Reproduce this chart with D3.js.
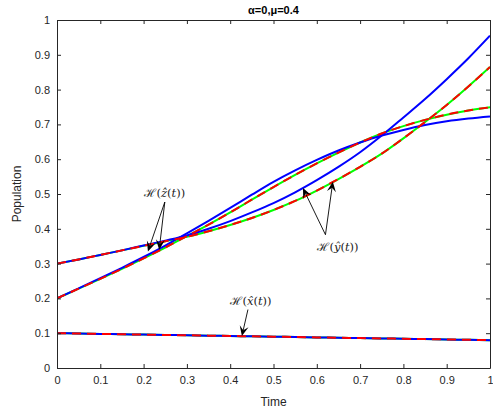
<!DOCTYPE html>
<html><head><meta charset="utf-8">
<script src="https://cdn.jsdelivr.net/npm/d3@7"></script>
<style>body{margin:0;background:#fff}svg{display:block}</style>
</head><body>
<svg id="c" width="493" height="412"></svg>
<script>
// ---- data ----
const tValues = [0,0.05,0.1,0.15,0.2,0.25,0.3,0.35,0.4,0.45,0.5,0.55,0.6,0.65,0.7,0.75,0.8,0.85,0.9,0.95,1.0];
const xExact  = [0.100,0.099,0.098,0.097,0.096,0.095,0.094,0.093,0.092,0.091,0.090,0.089,0.088,0.087,0.086,0.085,0.084,0.083,0.082,0.081,0.080];
const zExact  = [0.200,0.229,0.258,0.288,0.319,0.352,0.387,0.423,0.460,0.498,0.535,0.568,0.598,0.625,0.648,0.668,0.684,0.698,0.709,0.717,0.723];
const zApprox = [0.200,0.228,0.256,0.285,0.315,0.346,0.379,0.412,0.447,0.484,0.520,0.555,0.588,0.619,0.648,0.674,0.695,0.713,0.728,0.740,0.749];
const yExact  = [0.300,0.312,0.325,0.338,0.352,0.366,0.381,0.400,0.422,0.447,0.474,0.505,0.540,0.578,0.620,0.668,0.720,0.773,0.830,0.890,0.955];
const yApprox = [0.300,0.312,0.325,0.338,0.351,0.364,0.377,0.393,0.411,0.431,0.454,0.480,0.510,0.543,0.578,0.616,0.660,0.707,0.756,0.809,0.865];
const xTicks = [0,0.1,0.2,0.3,0.4,0.5,0.6,0.7,0.8,0.9,1];
const yTicks = [0,0.1,0.2,0.3,0.4,0.5,0.6,0.7,0.8,0.9,1];
const titleText = "α=0,μ=0.4";
const xLabel = "Time", yLabel = "Population";
// annotations: hatted variable, text anchor [t,v], arrow start [t,v], arrow tips [[t,v],...]
const annVars   = ["ẑ","ŷ","x̂"];
const annText   = [[0.249,0.49],[0.649,0.335],[0.448,0.182]];
const annStart  = [[0.249,0.477],[0.620,0.383],[0.441,0.168]];
const annTips   = [[[0.210,0.335],[0.236,0.340]],[[0.568,0.517],[0.637,0.535]],[[0.427,0.092]]];

// ---- layout ----
const L=57,R=490,T=20,B=368;
const svg=d3.select("#c");
const x=d3.scaleLinear().domain([0,1]).range([L,R]);
const y=d3.scaleLinear().domain([0,1]).range([B,T]);
const axCol="#262626";

const line=(vals)=>d3.line().x((d,i)=>x(tValues[i])).y(d=>y(d)).curve(d3.curveMonotoneX)(vals);

const gP=svg.append("g");
gP.append("clipPath").attr("id","clip").append("rect").attr("x",L).attr("y",T).attr("width",R-L).attr("height",B-T);
const gL=gP.append("g").attr("clip-path","url(#clip)");
[xExact,zApprox,yApprox].forEach(s=>gL.append("path").attr("d",line(s)).attr("fill","none").attr("stroke","#00ff00").attr("stroke-width",2));
[xExact,zExact,yExact].forEach(s=>gL.append("path").attr("d",line(s)).attr("fill","none").attr("stroke","#0000ff").attr("stroke-width",2));
[xExact,zApprox,yApprox].forEach(s=>gL.append("path").attr("d",line(s)).attr("fill","none").attr("stroke","#ff0000").attr("stroke-width",2).attr("stroke-dasharray","9,6"));

// axes
const fmt=d=>d===0?"0":d===1?"1":d3.format(".1f")(d);
const gx=svg.append("g").attr("transform",`translate(0,${B})`).call(d3.axisBottom(x).tickValues(xTicks).tickFormat(fmt).tickSizeInner(-4).tickSizeOuter(0).tickPadding(8));
const gx2=svg.append("g").attr("transform",`translate(0,${T})`).call(d3.axisTop(x).tickValues(xTicks).tickFormat("").tickSizeInner(-4).tickSizeOuter(0));
const gy=svg.append("g").attr("transform",`translate(${L},0)`).call(d3.axisLeft(y).tickValues(yTicks).tickFormat(fmt).tickSizeInner(-4).tickSizeOuter(0).tickPadding(7));
const gy2=svg.append("g").attr("transform",`translate(${R},0)`).call(d3.axisRight(y).tickValues(yTicks).tickFormat("").tickSizeInner(-4).tickSizeOuter(0));
[gx,gx2,gy,gy2].forEach(g=>{g.selectAll("path,line").attr("stroke",axCol).attr("stroke-width",1);g.selectAll("text").attr("fill",axCol).style("font-family","'Liberation Sans',Arial,sans-serif").style("font-size","11px");});

svg.append("text").attr("x",(L+R)/2).attr("y",406).attr("text-anchor","middle").attr("fill",axCol).style("font-family","'Liberation Sans',Arial,sans-serif").style("font-size","12px").text(xLabel);
svg.append("text").attr("transform",`translate(21,${(T+B)/2}) rotate(-90)`).attr("text-anchor","middle").attr("fill",axCol).style("font-family","'Liberation Sans',Arial,sans-serif").style("font-size","12px").text(yLabel);
svg.append("text").attr("x",(L+R)/2).attr("y",14).attr("text-anchor","middle").attr("fill","#000").style("font-family","'Liberation Sans',Arial,sans-serif").style("font-size","11px").style("font-weight","bold").text(titleText);

// annotations
const ga=svg.append("g");
function arrow(x0,y0,x1,y1){
  const dx=x1-x0,dy=y1-y0,len=Math.hypot(dx,dy),ux=dx/len,uy=dy/len,px=-uy,py=ux;
  const hl=10,hw=4.5,nb=6;
  ga.append("line").attr("x1",x0).attr("y1",y0).attr("x2",x1-ux*nb).attr("y2",y1-uy*nb).attr("stroke","#000").attr("stroke-width",0.9);
  const p=[[x1,y1],[x1-ux*hl+px*hw,y1-uy*hl+py*hw],[x1-ux*nb,y1-uy*nb],[x1-ux*hl-px*hw,y1-uy*hl-py*hw]];
  ga.append("path").attr("d","M"+p.map(q=>q.join(",")).join("L")+"Z").attr("fill","#000");
}
annVars.forEach((v,i)=>{
  const t=ga.append("text").attr("x",x(annText[i][0])).attr("y",y(annText[i][1])).attr("text-anchor","middle")
    .style("font-family","'DejaVu Serif','Liberation Serif',serif").style("font-size","11.5px").attr("fill","#222");
  t.append("tspan").text("ℋ(");
  t.append("tspan").style("font-style","italic").text(v);
  t.append("tspan").text("(");
  t.append("tspan").style("font-style","italic").text("t");
  t.append("tspan").text("))");
  annTips[i].forEach(tp=>arrow(x(annStart[i][0]),y(annStart[i][1]),x(tp[0]),y(tp[1])));
});
</script>
</body></html>
